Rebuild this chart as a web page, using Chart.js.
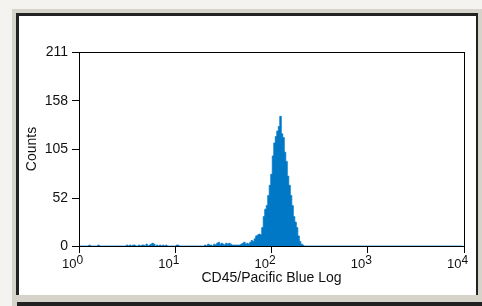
<!DOCTYPE html>
<html>
<head>
<meta charset="utf-8">
<script src="https://cdn.jsdelivr.net/npm/chart.js@4/dist/chart.umd.min.js"></script>
<style>
  html, body { margin: 0; padding: 0; background: #f4f3ef; }
  #wrap { width: 482px; height: 306px; }
</style>
</head>
<body>
<div id="wrap"><canvas id="histChart" width="482" height="306"></canvas></div>
<script>
// Histogram data (channel number -> counts), 256 channels over 4 decades
const channelCount = 256;
const decades = 4;
const channels = [
    7, 13, 32, 34, 36, 37, 40, 42, 43, 45, 47, 48, 49, 50, 52, 54, 56, 58, 65, 66,
    84, 86, 87, 88, 90, 91, 92, 93, 94, 95, 96, 97, 98, 99, 100, 101, 102, 103, 104, 105,
    106, 107, 108, 109, 110, 111, 112, 113, 114, 115, 116, 117, 118, 119, 120, 121, 122, 123, 124, 125,
    126, 127, 128, 129, 130, 131, 132, 133, 134, 135, 136, 137, 138, 139, 140, 141, 142, 143, 144, 145,
    146, 147, 148, 149
];
const counts = [
    1, 1, 1, 1, 1, 1, 1, 1, 1, 2, 1, 2, 3, 2, 1, 1, 1, 1, 1, 1,
    1, 2, 1, 1, 2, 1, 3, 4, 2, 3, 2, 1, 3, 2, 3, 2, 1, 1, 1, 1,
    1, 1, 2, 3, 4, 2, 3, 2, 4, 6, 5, 8, 11, 12, 13, 12, 20, 32, 40, 44,
    55, 66, 78, 98, 112, 119, 125, 130, 141, 122, 118, 102, 92, 76, 66, 55, 44, 32, 26, 20,
    11, 5, 2, 1
];
const yTicks = [0, 52, 105, 158, 211];
const xTicks = [1, 10, 100, 1000, 10000];
const xTickExponents = ['0', '1', '2', '3', '4'];
const xTitle = 'CD45/Pacific Blue Log';
const yTitle = 'Counts';

// fill every channel, empty ones are 0
const histogram = [];
for (let c = 0; c < channelCount; c++) {
    const i = channels.indexOf(c);
    histogram.push({ x: Math.pow(10, c * decades / channelCount), y: i >= 0 ? counts[i] : 0 });
}

const fontFamily = '"Liberation Sans", Arial, sans-serif';
Chart.defaults.font.family = fontFamily;
Chart.defaults.font.size = 14;
Chart.defaults.color = '#111';

// window frame around the plot
const framePlugin = {
    id: 'frame',
    beforeDraw(chart) {
        const c = chart.ctx;
        c.save();
        c.fillStyle = '#f4f3ef';
        c.fillRect(0, 0, 482, 306);
        c.fillStyle = '#d6d3ca';
        c.fillRect(12, 9, 470, 297);
        c.fillStyle = '#222';
        c.fillRect(16, 13, 462, 284);
        c.fillStyle = '#fff';
        c.fillRect(19, 16, 457, 279);
        c.fillStyle = '#d6d3ca';
        c.fillRect(16, 295, 466, 7);
        c.fillStyle = '#222';
        c.fillRect(17, 302, 465, 4);
        c.restore();
    },
    afterDatasetsDraw(chart) {
        const a = chart.chartArea;
        const c = chart.ctx;
        c.save();
        c.strokeStyle = '#000';
        c.lineWidth = 1;
        c.strokeRect(Math.round(a.left) + 0.5, Math.round(a.top) + 0.5,
            Math.round(a.right - a.left), Math.round(a.bottom - a.top));
        // decade labels with raised exponent
        const xs = chart.scales.x;
        xTicks.forEach((v, i) => {
            const px = xs.getPixelForValue(v);
            c.fillStyle = '#111';
            c.font = '13px ' + fontFamily;
            c.textAlign = 'right';
            c.textBaseline = 'alphabetic';
            c.fillText('10', px - 2.5, a.bottom + 22);
            c.font = '12px ' + fontFamily;
            c.textAlign = 'left';
            c.fillText(xTickExponents[i], px - 2.5, a.bottom + 18);
        });
        c.restore();
    }
};

const ctx = document.getElementById('histChart').getContext('2d');
const histChart = new Chart(ctx, {
    type: 'line',
    data: {
        datasets: [{
            label: 'Counts',
            data: histogram,
            stepped: 'middle',
            fill: 'origin',
            backgroundColor: '#0078c6',
            borderColor: '#0078c6',
            borderWidth: 0.8,
            pointRadius: 0
        }]
    },
    options: {
        responsive: false,
        animation: false,
        layout: { padding: { top: 52, right: 18, bottom: 0, left: 0 } },
        plugins: {
            legend: { display: false },
            tooltip: { enabled: false }
        },
        scales: {
            x: {
                type: 'logarithmic',
                min: 1,
                max: 10000,
                afterBuildTicks: scale => { scale.ticks = xTicks.map(v => ({ value: v })); },
                afterFit: scale => { scale.height = 60; },
                grid: { drawOnChartArea: false, drawTicks: true, tickLength: 7, color: '#000' },
                border: { display: false },
                ticks: { callback: () => '', autoSkip: false, maxRotation: 0 },
                title: { display: true, text: xTitle, padding: { top: 0, bottom: 19 }, font: { size: 14 } }
            },
            y: {
                min: 0,
                max: 211,
                afterBuildTicks: scale => { scale.ticks = yTicks.map(v => ({ value: v })); },
                afterFit: scale => { scale.width = 79; },
                grid: { drawOnChartArea: false, drawTicks: true, tickLength: 7, color: '#000' },
                border: { display: false },
                ticks: { padding: 4, font: { size: 14 } },
                title: { display: true, text: yTitle, padding: { top: 24, bottom: 0 }, font: { size: 14 } }
            }
        }
    },
    plugins: [framePlugin]
});
</script>
</body>
</html>
